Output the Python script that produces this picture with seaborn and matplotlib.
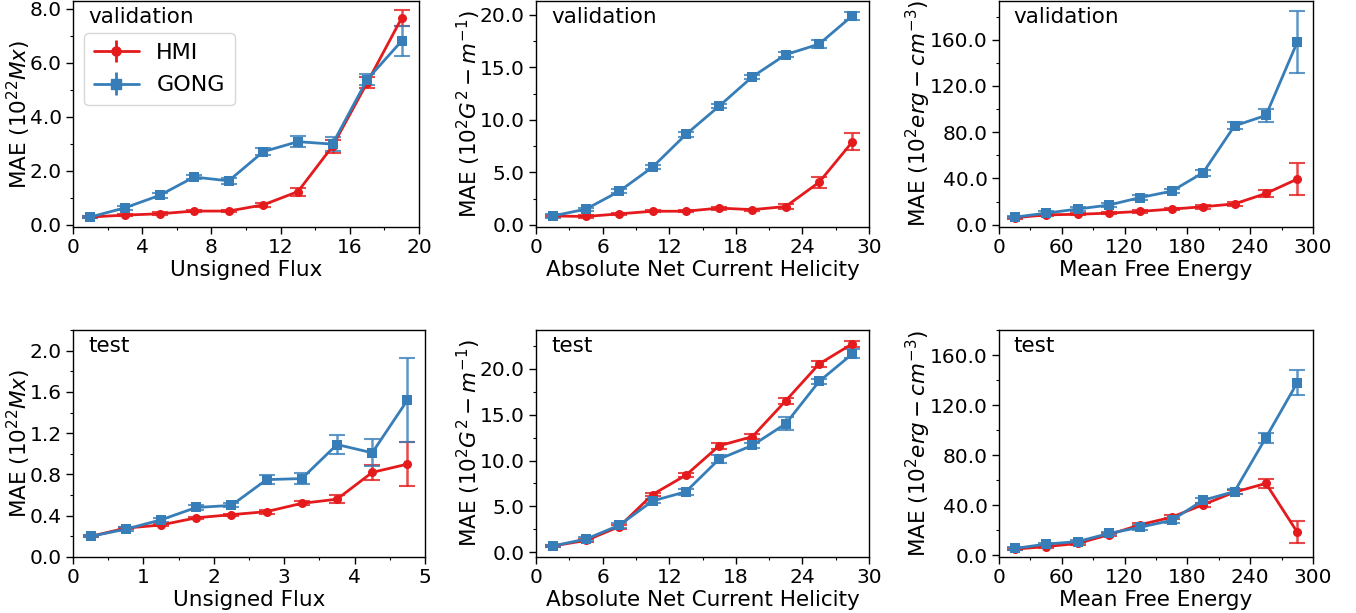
import numpy as np
import pandas as pd
import matplotlib
matplotlib.use('Agg')
import matplotlib.pyplot as plt
from matplotlib.ticker import MultipleLocator, FormatStrFormatter
import seaborn as sns

# bin centres for each feature
flux_val_x = [1, 3, 5, 7, 9, 11, 13, 15, 17, 19]
flux_test_x = [0.25, 0.75, 1.25, 1.75, 2.25, 2.75, 3.25, 3.75, 4.25, 4.75]
hel_x = [1.5, 4.5, 7.5, 10.5, 13.5, 16.5, 19.5, 22.5, 25.5, 28.5]
energy_x = [15, 45, 75, 105, 135, 165, 195, 225, 255, 285]

# validation - unsigned flux
val_flux_hmi = [0.28, 0.35, 0.40, 0.50, 0.50, 0.73, 1.22, 2.90, 5.25, 7.65]
val_flux_hmi_err = [0.04, 0.05, 0.05, 0.05, 0.05, 0.08, 0.15, 0.25, 0.20, 0.28]
val_flux_gong = [0.28, 0.62, 1.08, 1.76, 1.62, 2.70, 3.07, 2.98, 5.37, 6.80]
val_flux_gong_err = [0.05, 0.07, 0.08, 0.08, 0.10, 0.12, 0.20, 0.25, 0.20, 0.55]

# validation - helicity
val_hel_hmi = [0.85, 0.80, 1.05, 1.30, 1.30, 1.60, 1.45, 1.75, 4.05, 7.90]
val_hel_hmi_err = [0.10, 0.10, 0.10, 0.10, 0.10, 0.15, 0.10, 0.20, 0.50, 0.80]
val_hel_gong = [0.85, 1.50, 3.20, 5.50, 8.60, 11.30, 14.10, 16.20, 17.20, 19.90]
val_hel_gong_err = [0.15, 0.15, 0.20, 0.20, 0.20, 0.20, 0.20, 0.25, 0.35, 0.40]

# validation - free energy
val_en_hmi = [6.0, 8.5, 9.0, 10.0, 11.5, 13.5, 15.5, 18.0, 27.0, 39.5]
val_en_hmi_err = [1.0, 1.0, 1.0, 1.0, 1.0, 1.0, 1.5, 1.5, 3.0, 14.0]
val_en_gong = [6.5, 10.0, 13.5, 17.0, 23.5, 29.0, 45.0, 85.5, 94.5, 158.0]
val_en_gong_err = [1.0, 1.5, 1.5, 2.0, 2.0, 2.0, 2.5, 3.0, 6.0, 27.0]

# test - unsigned flux
test_flux_hmi = [0.20, 0.28, 0.31, 0.38, 0.41, 0.44, 0.52, 0.56, 0.82, 0.90]
test_flux_hmi_err = [0.01, 0.01, 0.01, 0.01, 0.01, 0.02, 0.02, 0.04, 0.07, 0.21]
test_flux_gong = [0.20, 0.27, 0.36, 0.48, 0.50, 0.75, 0.76, 1.09, 1.01, 1.52]
test_flux_gong_err = [0.01, 0.02, 0.02, 0.02, 0.02, 0.04, 0.05, 0.09, 0.13, 0.41]

# test - helicity
test_hel_hmi = [0.7, 1.3, 2.8, 6.3, 8.4, 11.6, 12.6, 16.5, 20.5, 22.7]
test_hel_hmi_err = [0.1, 0.2, 0.2, 0.2, 0.2, 0.3, 0.3, 0.3, 0.3, 0.3]
test_hel_gong = [0.7, 1.45, 2.95, 5.6, 6.6, 10.15, 11.65, 14.0, 18.6, 21.6]
test_hel_gong_err = [0.1, 0.2, 0.3, 0.2, 0.3, 0.45, 0.3, 0.7, 0.3, 0.5]

# test - free energy
test_en_hmi = [5.0, 7.0, 9.5, 16.5, 24.5, 30.5, 40.5, 50.5, 57.5, 18.5]
test_en_hmi_err = [1.0, 1.0, 1.0, 1.0, 1.0, 1.5, 1.5, 1.5, 3.5, 9.0]
test_en_gong = [5.5, 9.0, 11.0, 17.5, 22.5, 28.0, 44.0, 51.0, 94.0, 138.0]
test_en_gong_err = [1.0, 1.0, 1.0, 1.5, 2.0, 2.0, 2.0, 2.0, 4.0, 10.0]

flux_label = 'MAE ($10^{22} Mx$)'
hel_label = 'MAE ($10^2 G^2 - m^{-1}$)'
en_label = 'MAE ($10^2 erg - cm^{-3}$)'

sns.set_theme(style='ticks')
plt.rcParams['font.family'] = ['DejaVu Sans']
plt.rcParams['mathtext.fontset'] = 'dejavusans'
for k in ['text.color', 'axes.labelcolor', 'xtick.color', 'ytick.color', 'axes.edgecolor']:
    plt.rcParams[k] = 'black'
pal = sns.color_palette('Set1')
red, blue = pal[0], pal[1]

W, H = 1356, 613
fig = plt.figure(figsize=(13.56, 6.13), dpi=100)

# panel rects in pixels (left, right, top, bottom)
rects = [(73, 419, 1, 227), (536, 869, 1, 227), (999, 1313, 1, 227),
         (73, 425, 330, 557), (536, 869, 330, 557), (999, 1313, 330, 557)]

panels = [
    (flux_val_x, val_flux_hmi, val_flux_hmi_err, val_flux_gong, val_flux_gong_err,
     'Unsigned Flux', flux_label, 'validation', (0, 20), (-0.09, 8.28), 4, 2, 2.0, 1.0),
    (hel_x, val_hel_hmi, val_hel_hmi_err, val_hel_gong, val_hel_gong_err,
     'Absolute Net Current Helicity', hel_label, 'validation', (0, 30), (-0.2, 21.3), 6, 3, 5.0, 2.5),
    (energy_x, val_en_hmi, val_en_hmi_err, val_en_gong, val_en_gong_err,
     'Mean Free Energy', en_label, 'validation', (0, 300), (-2, 193.5), 60, 30, 40.0, 20.0),
    (flux_test_x, test_flux_hmi, test_flux_hmi_err, test_flux_gong, test_flux_gong_err,
     'Unsigned Flux', flux_label, 'test', (0, 5), (0, 2.2), 1, 0.5, 0.4, 0.2),
    (hel_x, test_hel_hmi, test_hel_hmi_err, test_hel_gong, test_hel_gong_err,
     'Absolute Net Current Helicity', hel_label, 'test', (0, 30), (-0.5, 24.2), 6, 3, 5.0, 2.5),
    (energy_x, test_en_hmi, test_en_hmi_err, test_en_gong, test_en_gong_err,
     'Mean Free Energy', en_label, 'test', (0, 300), (-1.3, 180), 60, 30, 40.0, 20.0),
]

for (l, r, t, b), p in zip(rects, panels):
    x, hmi, hmi_err, gong, gong_err, xlab, ylab, tag, xlim, ylim, xmaj, xmin, ymaj, ymin = p
    ax = fig.add_axes([l / W, 1 - b / H, (r - l) / W, (b - t) / H])
    df = pd.DataFrame({'x': x + x, 'mae': hmi + gong,
                       'source': ['HMI'] * len(x) + ['GONG'] * len(x)})
    ax.errorbar(x, hmi, yerr=hmi_err, fmt='none', ecolor=red, capsize=6,
                elinewidth=1.8, capthick=1.5, alpha=0.8)
    ax.errorbar(x, gong, yerr=gong_err, fmt='none', ecolor=blue, capsize=6,
                elinewidth=1.8, capthick=1.5, alpha=0.8)
    sns.lineplot(data=df, x='x', y='mae', hue='source', style='source',
                 palette={'HMI': red, 'GONG': blue},
                 markers={'HMI': 'o', 'GONG': 's'}, dashes=False,
                 markersize=6.5, markeredgewidth=0, linewidth=2,
                 legend=False, ax=ax)
    ax.set_xlim(*xlim)
    ax.set_ylim(*ylim)
    ax.xaxis.set_major_locator(MultipleLocator(xmaj))
    ax.xaxis.set_minor_locator(MultipleLocator(xmin))
    ax.yaxis.set_major_locator(MultipleLocator(ymaj))
    ax.yaxis.set_minor_locator(MultipleLocator(ymin))
    ax.yaxis.set_major_formatter(FormatStrFormatter('%.1f'))
    ax.tick_params(axis='both', which='major', labelsize=14.5, length=5, width=1, pad=3)
    ax.tick_params(axis='both', which='minor', length=2.5, width=0.8)
    ax.set_xlabel(xlab, fontsize=15.5, labelpad=2)
    ax.set_ylabel(ylab, fontsize=15.5, labelpad=-2)
    for s in ax.spines.values():
        s.set_linewidth(1)
    ax.text(0.045, 0.975, tag, transform=ax.transAxes, fontsize=15.5, va='top', ha='left')

    if tag == 'validation' and xlab == 'Unsigned Flux':
        h1 = ax.errorbar([], [], yerr=[], color=red, marker='o', markersize=6.5,
                         capsize=6, linewidth=2, label='HMI')
        h2 = ax.errorbar([], [], yerr=[], color=blue, marker='s', markersize=6.5,
                         capsize=6, linewidth=2, label='GONG')
        ax.legend(handles=[h1, h2], loc='upper left', bbox_to_anchor=(0.032, 0.858),
                  borderaxespad=0, fontsize=16, frameon=True, handlelength=2.0,
                  borderpad=0.45, labelspacing=0.55, handletextpad=0.8)

fig.savefig('out.png', dpi=100)
